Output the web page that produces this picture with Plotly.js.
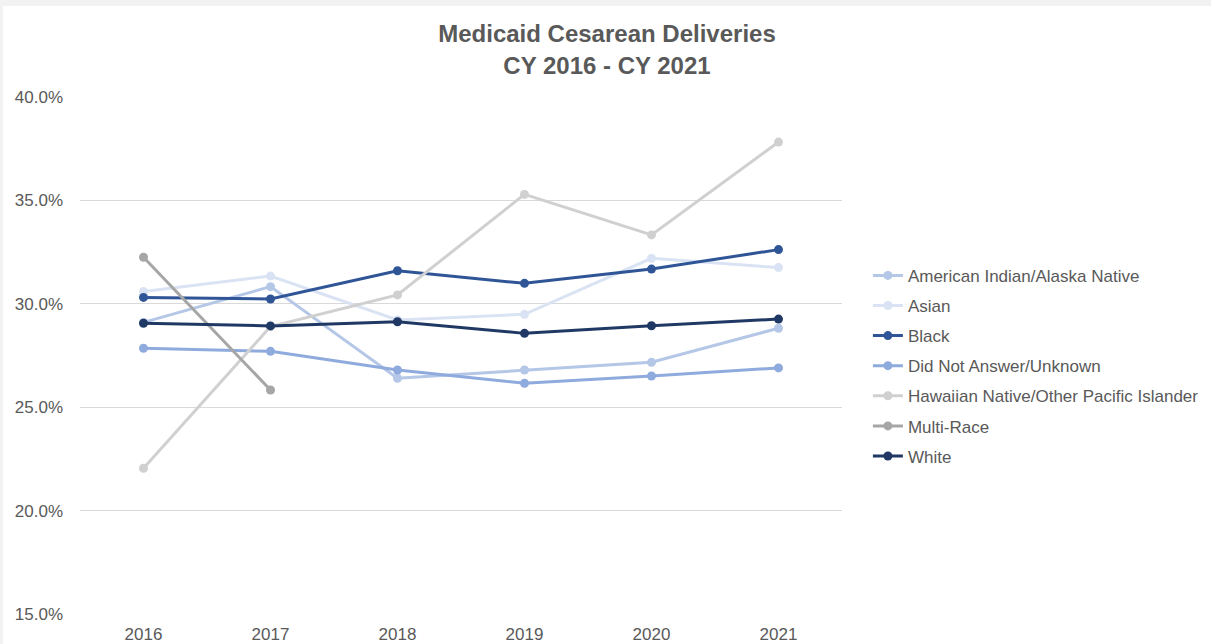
<!DOCTYPE html>
<html>
<head>
<meta charset="utf-8">
<script src="https://cdn.plot.ly/plotly-3.0.1.min.js"></script>
<style>
html,body{margin:0;padding:0;background:#f2f2f2;width:1211px;height:644px;overflow:hidden;}
#chart{position:absolute;left:3px;top:6px;width:1208px;height:638px;background:#fff;}
</style>
</head>
<body>
<div id="chart"></div>
<script>
const years = ['2016','2017','2018','2019','2020','2021'];
const seriesNames = ['American Indian/Alaska Native','Asian','Black','Did Not Answer/Unknown','Hawaiian Native/Other Pacific Islander','Multi-Race','White'];
const aian   = [0.2910, 0.3083, 0.2640, 0.2680, 0.2717, 0.2882];
const asian  = [0.3059, 0.3134, 0.2922, 0.2949, 0.3220, 0.3175];
const black  = [0.3031, 0.3023, 0.3160, 0.3099, 0.3168, 0.3262];
const dna    = [0.2785, 0.2770, 0.2680, 0.2616, 0.2651, 0.2690];
const hnopi  = [0.2205, 0.2890, 0.3043, 0.3529, 0.3333, 0.3782];
const multi  = [0.3225, 0.2583, null, null, null, null];
const white  = [0.2906, 0.2893, 0.2913, 0.2857, 0.2894, 0.2926];
const colors = ['#b4c7e7','#dae3f3','#2f5597','#8faadc','#d0d0d0','#a6a6a6','#203864'];
const values = [aian, asian, black, dna, hnopi, multi, white];

const traces = seriesNames.map((name, i) => ({
  type: 'scatter', mode: 'lines+markers', name: name, legendgroup: 'g' + i,
  x: years, y: values[i],
  line: {color: colors[i], width: 3},
  marker: {color: colors[i], size: 9},
  connectgaps: false
}));

const layout = {
  width: 1208, height: 638,
  paper_bgcolor: '#ffffff', plot_bgcolor: '#ffffff',
  margin: {l: 77, r: 369, t: 91, b: 30, autoexpand: false},
  font: {family: 'Liberation Sans, Arial, sans-serif', color: '#595959', size: 17},
  title: {text: '<b>Medicaid Cesarean Deliveries<br>CY 2016 - CY 2021</b>', x: 0.5, xanchor: 'center', xref: 'container',
          y: 0.943, yanchor: 'middle', yref: 'container',
          font: {size: 24, color: '#595959', family: 'Liberation Sans, Arial, sans-serif'}},
  xaxis: {type: 'category', showgrid: false, zeroline: false, showline: false, ticks: '', ticklabelstandoff: 8,
          tickfont: {size: 17, color: '#595959'}, range: [-0.5, 5.5]},
  yaxis: {range: [0.15, 0.40], dtick: 0.05, tickformat: '.1%', gridcolor: '#d9d9d9', gridwidth: 1,
          zeroline: false, showline: false, ticks: '', ticklabelstandoff: 16, tickfont: {size: 17, color: '#595959'}},
  legend: {x: 1.034, xanchor: 'left', xref: 'paper', y: 0.48, yanchor: 'middle', font: {size: 17, color: '#595959'},
           tracegroupgap: 5, itemwidth: 30, bgcolor: 'rgba(0,0,0,0)'},
  showlegend: true
};

Plotly.newPlot('chart', traces, layout, {displayModeBar: false, staticPlot: true});
</script>
</body>
</html>
